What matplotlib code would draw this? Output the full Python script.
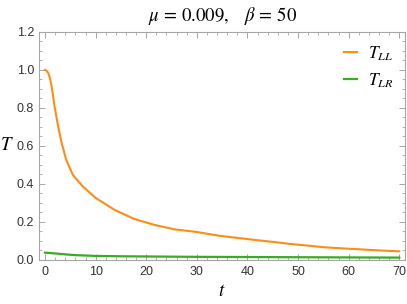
import matplotlib
matplotlib.use("Agg")
import matplotlib.pyplot as plt
from matplotlib.ticker import MultipleLocator

plt.rcParams['mathtext.fontset'] = 'stix'
plt.rcParams['font.family'] = ['Liberation Sans', 'DejaVu Sans']

# Data
t_LL = [0, 0.3, 0.65, 1.0, 1.3, 1.6, 1.9, 2.6, 3.3, 4.2, 5.5, 7.5, 10, 13.8, 17.7,
        21.7, 25.6, 30, 34.5, 38, 41.5, 45, 48.5, 52, 55, 58.5, 62, 66, 70]
T_LL = [1.0, 0.996, 0.983, 0.955, 0.912, 0.86, 0.806, 0.701, 0.613, 0.525, 0.446,
        0.384, 0.325, 0.261, 0.213, 0.182, 0.159, 0.145, 0.125, 0.114, 0.103, 0.093,
        0.082, 0.073, 0.065, 0.059, 0.054, 0.048, 0.043]

t_LR = [0, 2, 4, 6, 8, 10, 15, 20, 30, 40, 50, 60, 70]
T_LR = [0.036, 0.032, 0.027, 0.023, 0.021, 0.019, 0.017, 0.016, 0.014, 0.013,
        0.012, 0.011, 0.010]

labels = ['$T_{LL}$', '$T_{LR}$']
colors = ['#ff8c14', '#3aab22']
title = r'$\mu\,=\,0.009,\quad \beta\,=\,50$'

fig = plt.figure(figsize=(4.07, 3.04), dpi=100)
ax = fig.add_axes([39 / 407, 1 - 259.5 / 304, (405.3 - 39) / 407, (259.5 - 32) / 304])

ax.plot(t_LL, T_LL, color=colors[0], lw=1.5, label=labels[0])
ax.plot(t_LR, T_LR, color=colors[1], lw=1.6, label=labels[1])

ax.set_xlim(-1.19, 71.2)
ax.set_ylim(0, 1.2)

ax.xaxis.set_major_locator(MultipleLocator(10))
ax.xaxis.set_minor_locator(MultipleLocator(2))
ax.yaxis.set_major_locator(MultipleLocator(0.2))
ax.yaxis.set_minor_locator(MultipleLocator(0.05))
ax.yaxis.set_major_formatter(matplotlib.ticker.FormatStrFormatter('%.1f'))

frame_col = '#a6a6a6'
for s in ax.spines.values():
    s.set_color(frame_col)
    s.set_linewidth(0.8)
ax.tick_params(which='both', direction='in', top=True, right=True,
               color=frame_col, labelcolor='#333333', labelsize=9)
ax.tick_params(which='major', length=4, width=0.7)
ax.tick_params(which='minor', length=2.2, width=0.6)
ax.tick_params(axis='x', pad=5)
ax.tick_params(axis='y', pad=3.5)

ax.set_title(title, fontsize=13.5, pad=8)
ax.set_xlabel('$t$', fontsize=13.5, labelpad=3)
ax.set_ylabel('$T$', fontsize=13.5, rotation=0, va='center', ha='center')
ax.yaxis.set_label_coords(-0.088, 0.5)

ax.legend(loc='upper right', frameon=False, fontsize=12.5, handlelength=0.75,
          handletextpad=0.6, borderaxespad=0.3, labelspacing=0.5,
          bbox_to_anchor=(1.0, 1.0))

fig.savefig('out.png', dpi=100)
